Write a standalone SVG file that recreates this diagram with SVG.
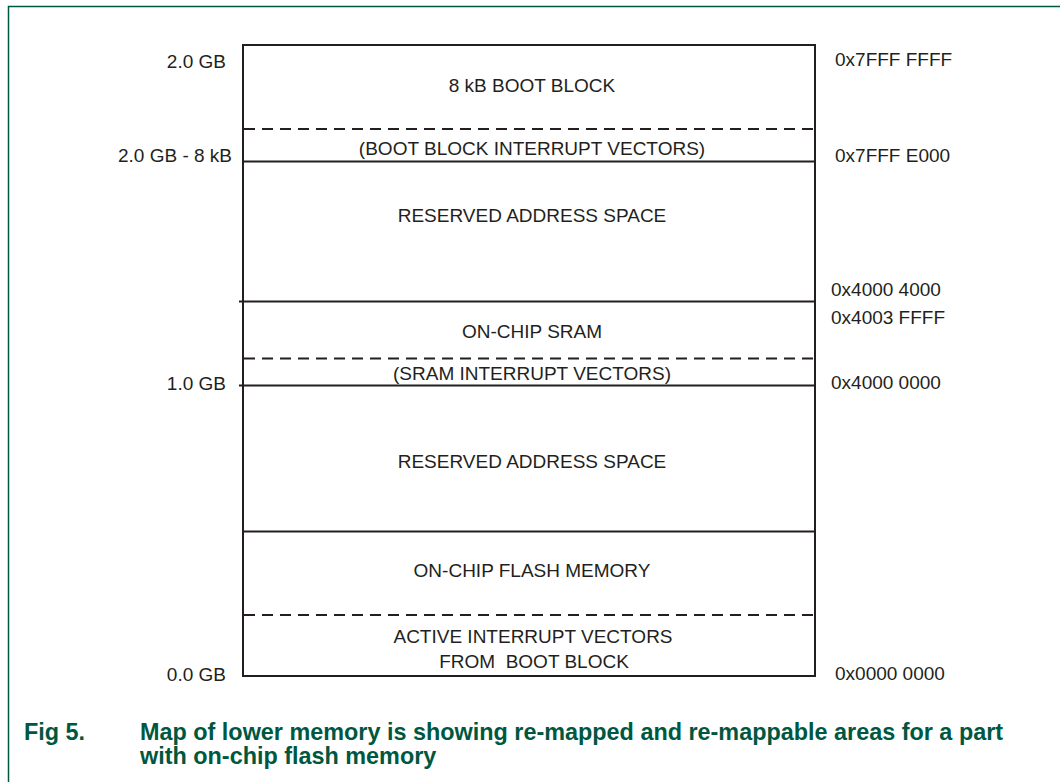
<svg xmlns="http://www.w3.org/2000/svg" width="1060" height="782" viewBox="0 0 1060 782">
<style>
.t{font-family:"Liberation Sans",Arial,sans-serif;font-size:19px;fill:#231f20;white-space:pre}
.c{text-anchor:middle}
.e{text-anchor:end}
.ln{stroke:#231f20;stroke-width:2;fill:none}
.ds{stroke:#231f20;stroke-width:2;stroke-dasharray:11 7;fill:none}
.cap{font-family:"Liberation Sans",Arial,sans-serif;font-size:23.4px;font-weight:bold;fill:#00573f}
</style>
<rect width="1060" height="782" fill="#fff"/>
<path d="M8.5 782V6.5H1060" stroke="#00573f" stroke-width="1.5" fill="none"/>
<g id="memory-map">
<rect class="ln" x="243" y="45" width="572" height="631"/>
</g>
<g id="connectors">
<line class="ds" x1="244" y1="129" x2="814" y2="129"/>
<line class="ln" x1="243" y1="161.5" x2="815" y2="161.5"/>
<line class="ln" x1="239" y1="301.5" x2="815" y2="301.5"/>
<line class="ds" x1="244" y1="358.5" x2="814" y2="358.5"/>
<line class="ln" x1="239" y1="385.5" x2="815" y2="385.5"/>
<line class="ln" x1="243" y1="531.5" x2="815" y2="531.5"/>
<line class="ds" x1="244" y1="615" x2="814" y2="615"/>
</g>
<g id="boot-block"><text class="t c" x="532" y="92">8 kB BOOT BLOCK</text></g>
<g id="boot-vectors"><text class="t c" x="532" y="155">(BOOT BLOCK INTERRUPT VECTORS)</text></g>
<g id="reserved-1"><text class="t c" x="532" y="222">RESERVED ADDRESS SPACE</text></g>
<g id="sram"><text class="t c" x="532" y="338">ON-CHIP SRAM</text></g>
<g id="sram-vectors"><text class="t c" x="532" y="380">(SRAM INTERRUPT VECTORS)</text></g>
<g id="reserved-2"><text class="t c" x="532" y="468">RESERVED ADDRESS SPACE</text></g>
<g id="flash"><text class="t c" x="532" y="577">ON-CHIP FLASH MEMORY</text></g>
<g id="active-vectors"><text class="t c" x="533" y="643">ACTIVE INTERRUPT VECTORS</text><text class="t c" x="534" y="668">FROM  BOOT BLOCK</text></g>
<g id="left-labels">
<text class="t e" x="226" y="68">2.0 GB</text>
<text class="t e" x="232" y="162">2.0 GB - 8 kB</text>
<text class="t e" x="226" y="390">1.0 GB</text>
<text class="t e" x="226" y="681">0.0 GB</text>
</g>
<g id="right-labels">
<text class="t" x="835" y="66">0x7FFF FFFF</text>
<text class="t" x="835" y="162">0x7FFF E000</text>
<text class="t" x="831" y="296">0x4000 4000</text>
<text class="t" x="831" y="324">0x4003 FFFF</text>
<text class="t" x="831" y="389">0x4000 0000</text>
<text class="t" x="835" y="680">0x0000 0000</text>
</g>
<g id="caption">
<text class="cap" x="24" y="740">Fig 5.</text>
<text class="cap" x="140" y="740">Map of lower memory is showing re-mapped and re-mappable areas for a part</text>
<text class="cap" x="140" y="764">with on-chip flash memory</text>
</g>
</svg>
